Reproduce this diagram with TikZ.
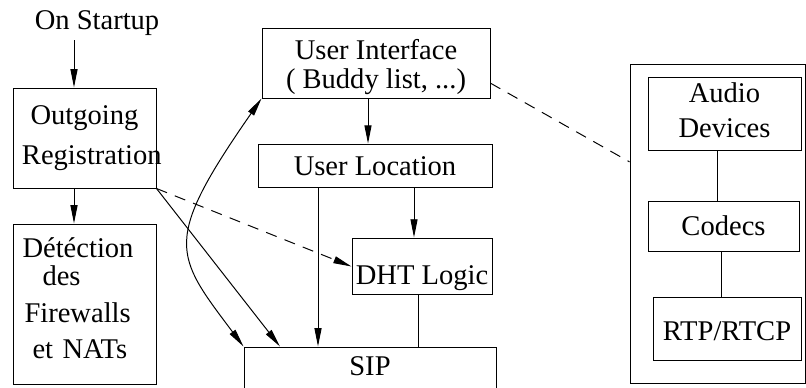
\documentclass[tikz,border=0pt]{standalone}
\usepackage{fontspec}
\setmainfont{Liberation Serif}
\usetikzlibrary{arrows.meta,positioning}
\newlength\unitpx
\setlength\unitpx{0.025cm}

\begin{document}
\begin{tikzpicture}[
    x=0.025cm, y=-0.025cm,
    every node/.style={font=\fontsize{20.3}{20}\selectfont},
    box/.style={draw, line width=0.7pt, align=center, inner sep=0pt},
    arr/.style={-{Triangle[length=13pt,width=5pt]}, line width=0.7pt},
    twoarr/.style={{Triangle[length=13pt,width=5pt]}-{Triangle[length=13pt,width=5pt]}, line width=0.7pt},
    link/.style={line width=0.7pt},
    dashedlink/.style={line width=0.7pt, dash pattern=on 8pt off 6pt}
]
\clip (0,0) rectangle (806,387);

\node (start) at (97,23) {On Startup};
\node[box, minimum width=143\unitpx, minimum height=100\unitpx] (outgoing) at (84.5,138) {Outgoing\\[8.4pt]\makebox[139\unitpx][l]{\hspace*{7\unitpx}Registration}};
\node[box, align=left, text width=124\unitpx, minimum width=143\unitpx, minimum height=160\unitpx] (detect) at (84.5,304) {\noindent D\'et\'ection\\\rule{20\unitpx}{0pt}des\\[6.3pt]\rule{2\unitpx}{0pt}Firewalls\\[5.6pt]\rule{10\unitpx}{0pt}et NATs\rule[-8.5pt]{0pt}{8.5pt}};

\node[box, minimum width=228\unitpx, minimum height=70\unitpx] (ui) at (376,63) {\rule{0pt}{20pt}User Interface\\( Buddy list, ...)};
\node[box, minimum width=234\unitpx, text height=22pt, text depth=9.2pt] (uloc) at (375,166) {User Location};
\node[box, minimum width=140\unitpx, text height=33.4pt, text depth=7.1pt] (dht) at (422,266.5) {DHT Logic};
\node[box, minimum width=252\unitpx, text height=20.6pt, text depth=36.3pt] (sip) at (370,387) {SIP};

\node[box, minimum width=175\unitpx, minimum height=319\unitpx] (media) at (717.5,223.5) {};
\node[box, minimum width=153\unitpx, minimum height=73\unitpx] (audio) at (724.5,113.5) {Audio\\[4.9pt]Devices\rule[-5.3pt]{0pt}{5.3pt}};
\node[box, minimum width=151\unitpx, text height=23.5pt, text depth=11.4pt] (codecs) at (723.5,226.5) {Codecs};
\node[box, minimum width=148\unitpx, text height=30.6pt, text depth=14.2pt] (rtp) at (727,328.5) {RTP/RTCP};

\draw[arr] ([xshift=-23\unitpx]start.south) -- ([xshift=-10.5\unitpx]outgoing.north);
\draw[arr] ([xshift=-10.5\unitpx]outgoing.south) -- ([xshift=-10.5\unitpx]detect.north);
\draw[arr] ([xshift=-8\unitpx]ui.south) -- ([xshift=-7\unitpx]uloc.north);
\draw[arr] ([xshift=-57\unitpx]uloc.south) -- ([xshift=-57\unitpx]uloc.south |- sip.north);
\draw[arr] ([xshift=39\unitpx]uloc.south) -- ([xshift=-8\unitpx]dht.north);
\draw[link] ([xshift=-4\unitpx]dht.south) -- ([xshift=-4\unitpx]dht.south |- sip.north);
\draw[arr, dashedlink] (outgoing.south east) -- (dht.west);
\draw[arr] (outgoing.south east) -- ([xshift=-90\unitpx]sip.north);
\draw[twoarr] (ui.south west) .. controls +(-99.8,143.5) and +(-69,-92) .. (sip.north west);
\draw[dashedlink] (ui.-10) -- (media.145);

\draw[link] ([xshift=-7.5\unitpx]audio.south) -- ([xshift=-7.5\unitpx]audio.south |- codecs.north);
\draw[link] ([xshift=-2.5\unitpx]codecs.south) -- ([xshift=-2.5\unitpx]codecs.south |- rtp.north);
\end{tikzpicture}
\end{document}
